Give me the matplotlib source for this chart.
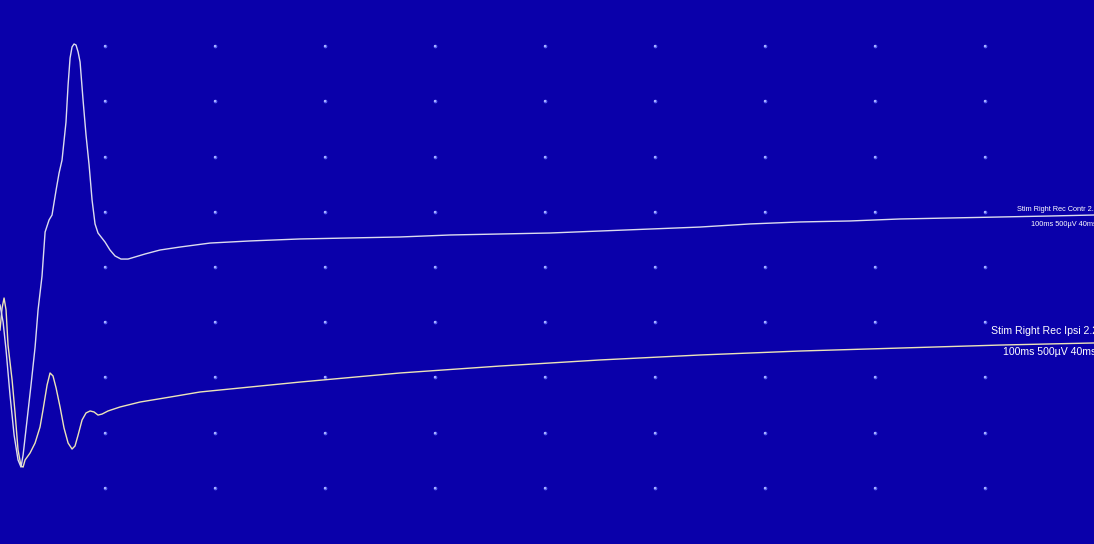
import matplotlib
matplotlib.use("Agg")
import matplotlib.pyplot as plt
import numpy as np

# Trace "Stim Right Rec Contr" : time (ms), amplitude (µV)
contr_t = [4.5, 7.3, 10.0, 13.6, 17.3, 20.9, 23.6, 25.5, 29.1, 32.7, 36.4, 39.1, 42.7, 45.5,
           49.1, 51.8, 55.5, 58.2, 60.9, 64.5, 66.4, 68.2, 70.0, 71.8, 73.6, 75.5, 77.3, 80.0,
           82.7, 85.5, 88.2, 90.9, 93.6, 96.4, 100.0, 104.5, 109.1, 114.5, 120.9, 127.3, 136.4,
           150.0, 168.2, 195.5, 231.8, 277.3, 322.7, 368.2, 413.6, 459.1, 504.5, 550.0, 595.5,
           640.9, 686.4, 731.8, 777.3, 822.7, 868.2, 913.6, 959.1, 999.1]
contr_v = [-344, -498, -752, -1159, -1522, -1748, -1812, -1703, -1386, -1069, -725, -389, -82, 317,
           426, 471, 697, 851, 969, 1313, 1649, 1893, 1993, 2020, 2011, 1948, 1857, 1513,
           1196, 924, 607, 390, 308, 272, 226, 154, 100, 72, 72, 91, 118,
           154, 181, 217, 236, 254, 263, 272, 290, 299, 308, 326, 344,
           362, 390, 408, 417, 435, 444, 453, 462, 471]

# Trace "Stim Right Rec Ipsi"
ipsi_t = [4.5, 6.4, 8.2, 10.0, 11.8, 15.5, 18.2, 20.9, 23.6, 25.5, 27.3, 31.8, 36.4, 40.9, 43.6,
          47.3, 50.0, 52.7, 55.5, 59.1, 62.7, 66.4, 70.0, 72.7, 75.5, 79.1, 82.7, 86.4, 90.0,
          93.6, 97.3, 102.7, 113.6, 131.8, 159.1, 186.4, 277.3, 368.2, 459.1, 550.0, 640.9,
          731.8, 822.7, 913.6, 999.1]
ipsi_v = [-571, -371, -281, -389, -707, -1024, -1322, -1658, -1803, -1812, -1748, -1685, -1594,
          -1449, -1295, -1069, -960, -987, -1096, -1268, -1458, -1594, -1649, -1621, -1522,
          -1386, -1322, -1304, -1313, -1341, -1332, -1304, -1268, -1223, -1178, -1132, -1042,
          -960, -897, -842, -797, -761, -734, -707, -688]

contr_labels = ["Stim Right Rec Contr 2.", "100ms 500µV 40ms"]
ipsi_labels = ["Stim Right Rec Ipsi 2.2", "100ms 500µV 40ms"]

grid_t = [100, 200, 300, 400, 500, 600, 700, 800, 900]
grid_v = [-2000, -1500, -1000, -500, 0, 500, 1000, 1500, 2000]

W, H = 1094, 544
fig = plt.figure(figsize=(W / 100, H / 100), dpi=100)
bg = "#0a00aa"
fig.patch.set_facecolor(bg)
ax = fig.add_axes([0, 0, 1, 1])
ax.set_facecolor(bg)
ax.set_xlim(4.5, 999.1)
ax.set_ylim(-2509, 2418.5)
for s in ax.spines.values():
    s.set_visible(False)
ax.set_xticks([])
ax.set_yticks([])

gx, gy = np.meshgrid(grid_t, grid_v)
ax.scatter(gx.ravel(), gy.ravel(), s=7, color="#5a62f0", marker="o", linewidths=0, zorder=1)
ax.scatter(gx.ravel(), gy.ravel(), s=2, color="#a8b0ff", marker="s", linewidths=0, zorder=1)

ax.plot(ipsi_t, ipsi_v, color="#ece4b8", lw=1.0, zorder=3)
ax.plot(contr_t, contr_v, color="#dcdcee", lw=1.0, zorder=4)

fam = ["Liberation Sans", "DejaVu Sans"]
def ptext(x, y, s, size):
    ax.text(x / W, 1 - y / H, s, transform=ax.transAxes, ha="left", va="center",
            fontsize=size, color="white", family=fam, clip_on=True)

ptext(1017, 209, contr_labels[0], 5.3)
ptext(1031, 224, contr_labels[1], 5.3)
ptext(991, 331, ipsi_labels[0], 7.6)
ptext(1003, 352, ipsi_labels[1], 7.6)

fig.savefig("out.png", dpi=100, facecolor=bg)
